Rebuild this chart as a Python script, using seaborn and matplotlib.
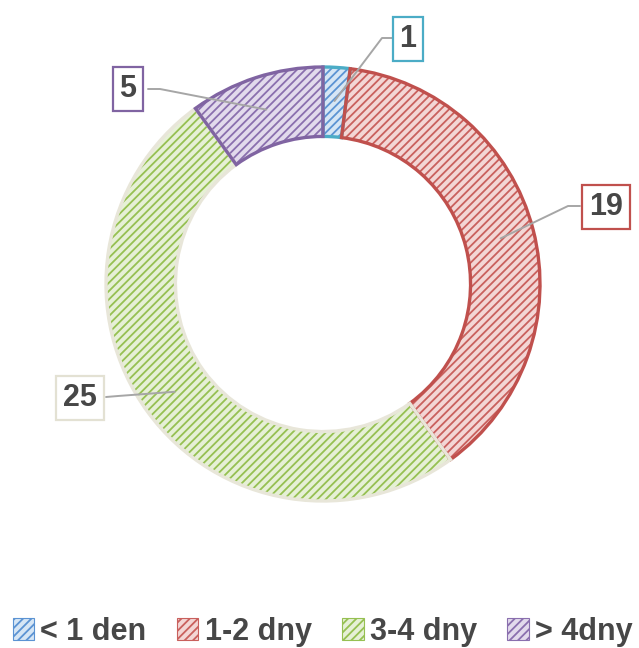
import numpy as np
import matplotlib
matplotlib.use('Agg')
import matplotlib.pyplot as plt
import matplotlib.patches as mpatches
import seaborn as sns

# ============ Data ============
categories = ['< 1 den', '1-2 dny', '3-4 dny', '> 4dny']
counts = [1, 19, 25, 5]

edge_colors = ['#4BACC6', '#C0504D', '#E8E6D9', '#8064A2']
hatch_colors = ['#5B93D3', '#C9605D', '#96C052', '#8A6FAE']
face_colors = ['#D6E6F5', '#F3D6D5', '#E6F0D6', '#E2DAEC']

# ============ Style ============
sns.set_theme(style='white')
plt.rcParams['font.family'] = ['Liberation Sans Narrow', 'DejaVu Sans Condensed', 'Liberation Sans', 'DejaVu Sans']
plt.rcParams['hatch.linewidth'] = 1.3
text_color = '#474747'

W, H = 639, 648
cx, cy, R = 323, 284, 217

fig = plt.figure(figsize=(W / 100, H / 100), dpi=100)
ax = fig.add_axes([0, 0, 1, 1])

# hatched fill layer (hatch colour comes from edgecolor)
wedges, _ = ax.pie(counts, startangle=90, counterclock=False, radius=1,
                   colors=face_colors, wedgeprops=dict(width=0.32, linewidth=0))
for w, hc in zip(wedges, hatch_colors):
    w.set_edgecolor(hc)
    w.set_hatch('////')
    w.set_linewidth(0)

# outline layer
outlines, _ = ax.pie(counts, startangle=90, counterclock=False, radius=1,
                     wedgeprops=dict(width=0.32, linewidth=2.4, facecolor='none'))
for w, ec in zip(outlines, edge_colors):
    w.set_edgecolor(ec)

ax.set_xlim(-cx / R, (W - cx) / R)
ax.set_ylim(-(H - cy) / R, cy / R)
ax.set_aspect('equal')
ax.axis('off')

# ============ Data labels ============
def to_data(px, py):
    return (px - cx) / R, (cy - py) / R

label_boxes = [(408, 39), (606, 207), (80, 398), (128, 89)]
elbows = [(382, 38), (568, 206), (118, 396), (160, 89)]
box_edges = [(393, 38), (580, 206), (106, 397), (148, 89)]

total = sum(counts)
start = 90.0
for i, c in enumerate(counts):
    span = 360.0 * c / total
    mid = np.radians(start - span / 2)
    start -= span
    ax_, ay_ = 0.845 * np.cos(mid), 0.845 * np.sin(mid)
    ex, ey = to_data(*elbows[i])
    bx, by = to_data(*box_edges[i])
    ax.plot([bx, ex, ax_], [by, ey, ay_], color='#A6A6A6', lw=1.4, zorder=5)
    tx, ty = to_data(*label_boxes[i])
    ax.text(tx, ty, str(c), ha='center', va='center', fontsize=22,
            fontweight='bold', color=text_color, zorder=6,
            bbox=dict(boxstyle='square,pad=0.22', facecolor='white',
                      edgecolor=edge_colors[i] if i != 2 else '#E3E1D3', linewidth=1.6))

# ============ Legend ============
handles = [mpatches.Patch(facecolor=fc, edgecolor=hc, hatch='////', linewidth=0.8, label=lab)
           for fc, hc, lab in zip(face_colors, hatch_colors, categories)]
leg = fig.legend(handles=handles, loc='center', bbox_to_anchor=(0.505, 0.025), ncol=4,
                 frameon=False, handlelength=0.7, handleheight=0.7, handletextpad=0.2,
                 columnspacing=1.0, prop=dict(size=22, weight='bold'))
for t in leg.get_texts():
    t.set_color(text_color)

fig.savefig('out.png', dpi=100)
